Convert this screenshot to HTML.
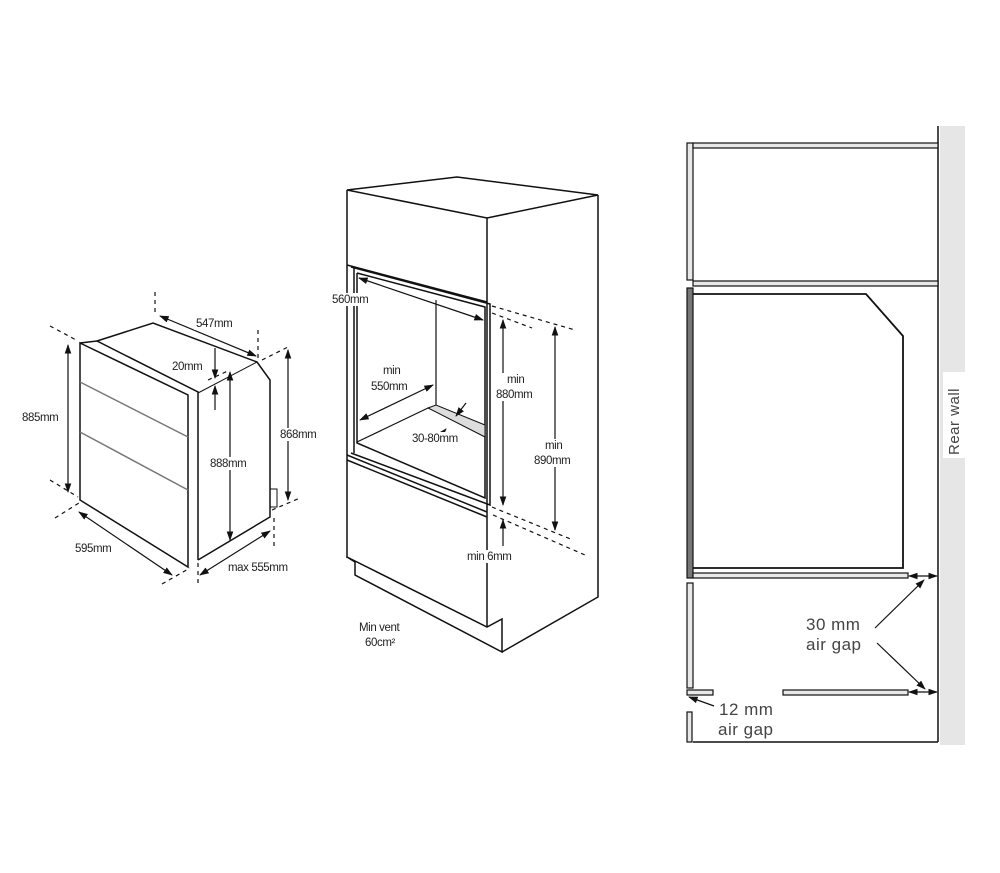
<!DOCTYPE html>
<html><head><meta charset="utf-8"><style>
html,body{margin:0;padding:0;background:#fff;}
svg{display:block}
text{font-family:"Liberation Sans",Arial,sans-serif;fill:#222}
.t{font-size:11.5px;letter-spacing:-0.4px}
.r{font-size:17px;fill:#444;letter-spacing:0.5px}
</style></head><body>
<svg width="1000" height="873" viewBox="0 0 1000 873" xmlns="http://www.w3.org/2000/svg">
<defs>
<marker id="a" viewBox="0 0 10 10" refX="9" refY="5" markerWidth="8" markerHeight="8" orient="auto-start-reverse"><path d="M0,1.5 L10,5 L0,8.5 z" fill="#111"/></marker>
</defs>
<g fill="none" stroke="#111" stroke-width="1.5">
<!-- LEFT OVEN -->
<polygon points="80,343 188,395 188,567 80,500" fill="#fff"/>
<line x1="80" y1="382" x2="188" y2="437" stroke="#777"/>
<line x1="80" y1="432" x2="188" y2="490" stroke="#777"/>
<polyline points="80,343 97,341 198,392 198,560"/>
<polyline points="97,341 153,323 257,362 270,380 270,517 198,560"/>
<line x1="198" y1="393" x2="257" y2="362" stroke-width="1"/>
<rect x="270" y="489" width="7" height="18" stroke-width="1"/>
<g stroke-width="1.2">
<line x1="68" y1="345" x2="68" y2="492" marker-start="url(#a)" marker-end="url(#a)"/>
<line x1="79" y1="512" x2="172" y2="575" marker-start="url(#a)" marker-end="url(#a)"/>
<line x1="160" y1="316" x2="256" y2="356" marker-start="url(#a)" marker-end="url(#a)"/>
<line x1="215" y1="348" x2="215" y2="378" marker-end="url(#a)"/>
<line x1="215" y1="410" x2="215" y2="386" marker-end="url(#a)"/>
<line x1="230" y1="372" x2="230" y2="540" marker-start="url(#a)" marker-end="url(#a)"/>
<line x1="288" y1="350" x2="288" y2="500" marker-start="url(#a)" marker-end="url(#a)"/>
<line x1="200" y1="575" x2="270" y2="531" marker-start="url(#a)" marker-end="url(#a)"/>
</g>
<g stroke-width="1.2" stroke-dasharray="4,4">
<line x1="50" y1="326" x2="78" y2="341"/><line x1="50" y1="480" x2="78" y2="497"/>
<line x1="55" y1="518" x2="79" y2="503"/><line x1="162" y1="584" x2="190" y2="568"/>
<line x1="155" y1="292" x2="155" y2="316"/><line x1="258" y1="330" x2="258" y2="360"/>
<line x1="262" y1="360" x2="290" y2="346"/><line x1="272" y1="510" x2="300" y2="498"/>
<line x1="198" y1="563" x2="198" y2="584"/><line x1="274" y1="518" x2="274" y2="550"/>
<line x1="208" y1="380" x2="230" y2="370"/>
</g>
<!-- MIDDLE CABINET -->
<polygon points="347,190 457,177 598,195 487,218" fill="#fff"/>
<polyline points="347,190 347,558"/>
<polyline points="487,218 487,627"/>
<polyline points="598,195 598,597 502,652"/>
<line x1="347" y1="265" x2="487" y2="302"/>
<polyline points="354,267 354,453"/>
<polyline points="357,273 485,307 485,498 357,443 357,273"/>
<polyline points="351,267 490,304 490,505 351,453"/>
<line x1="347" y1="455" x2="487" y2="512"/>
<line x1="347" y1="460" x2="487" y2="517"/>
<line x1="436" y1="300" x2="436" y2="407" stroke-width="1.2"/>
<polyline points="357,442 428,408 485,432" stroke-width="1.2"/>
<polygon points="428,408 436,405 485,425 485,437" fill="#ddd" stroke-width="1"/>
<polyline points="347,557 355,562 355,575 502,652 502,619 487,627 347,557"/>
<g stroke-width="1.2">
<line x1="359" y1="278" x2="483" y2="320" marker-start="url(#a)" marker-end="url(#a)"/>
<line x1="360" y1="420" x2="433" y2="385" marker-start="url(#a)" marker-end="url(#a)"/>
<line x1="466" y1="403" x2="456" y2="416" marker-end="url(#a)"/>
<line x1="438" y1="438" x2="446" y2="429" marker-end="url(#a)"/>
<line x1="503" y1="320" x2="503" y2="505" marker-start="url(#a)" marker-end="url(#a)"/>
<line x1="555" y1="327" x2="555" y2="530" marker-start="url(#a)" marker-end="url(#a)"/>
<line x1="503" y1="546" x2="503" y2="520" marker-end="url(#a)"/>
</g>
<g stroke-width="1.2" stroke-dasharray="4,4">
<line x1="492" y1="306" x2="575" y2="330"/><line x1="492" y1="313" x2="532" y2="328"/>
<line x1="492" y1="507" x2="573" y2="540"/><line x1="493" y1="515" x2="585" y2="555"/>
</g>
<!-- RIGHT SECTION -->
<rect x="940" y="126" width="25" height="619" fill="#e6e6e6" stroke="none"/>
<rect x="943" y="372" width="22" height="86" fill="#fff" stroke="none"/>
<line x1="938" y1="126" x2="938" y2="742"/>
<rect x="687" y="143" width="6" height="137" fill="#e8e8e8" stroke-width="1.2"/>
<rect x="693" y="143" width="245" height="5" fill="#e8e8e8" stroke-width="1.2"/>
<rect x="693" y="281" width="245" height="5" fill="#e8e8e8" stroke-width="1.2"/>
<rect x="687" y="288" width="6" height="290" fill="#777" stroke-width="1.2"/>
<polyline points="693,294 866,294 903,336 903,568 693,568" stroke-width="1.8"/>
<rect x="693" y="573" width="215" height="5" fill="#e8e8e8" stroke-width="1.2"/>
<rect x="687" y="583" width="6" height="105" fill="#e8e8e8" stroke-width="1.2"/>
<rect x="687" y="690" width="26" height="5" fill="#e8e8e8" stroke-width="1.2"/>
<rect x="783" y="690" width="125" height="5" fill="#e8e8e8" stroke-width="1.2"/>
<rect x="687" y="712" width="5" height="30" fill="#e8e8e8" stroke-width="1.2"/>
<line x1="693" y1="742" x2="938" y2="742"/>
<g stroke-width="1.2">
<line x1="909" y1="576" x2="937" y2="576" marker-start="url(#a)" marker-end="url(#a)"/>
<line x1="909" y1="692" x2="937" y2="692" marker-start="url(#a)" marker-end="url(#a)"/>
<line x1="875" y1="628" x2="924" y2="580" marker-end="url(#a)"/>
<line x1="877" y1="643" x2="925" y2="689" marker-end="url(#a)"/>
<line x1="714" y1="706" x2="689" y2="697" marker-end="url(#a)"/>
</g>
</g>
<!-- label backgrounds -->
<g fill="#fff">
<rect x="194" y="317" width="40" height="13"/>
<rect x="170" y="360" width="34" height="13"/>
<rect x="208" y="457" width="40" height="13"/>
<rect x="278" y="428" width="40" height="13"/>
<rect x="20" y="411" width="40" height="13"/>
<rect x="226" y="561" width="62" height="13"/>
<rect x="330" y="293" width="40" height="13"/>
<rect x="381" y="364" width="22" height="13"/>
<rect x="369" y="380" width="40" height="13"/>
<rect x="410" y="432" width="50" height="13"/>
<rect x="494" y="373" width="42" height="28"/>
<rect x="532" y="439" width="42" height="28"/>
<rect x="465" y="550" width="48" height="13"/>
</g>
<!-- LEFT LABELS -->
<text class="t" x="196" y="327">547mm</text>
<text class="t" x="172" y="370">20mm</text>
<text class="t" x="22" y="421">885mm</text>
<text class="t" x="280" y="438">868mm</text>
<text class="t" x="210" y="467">888mm</text>
<text class="t" x="75" y="552">595mm</text>
<text class="t" x="228" y="571">max 555mm</text>
<!-- MIDDLE LABELS -->
<text class="t" x="332" y="303">560mm</text>
<text class="t" x="383" y="374">min</text>
<text class="t" x="371" y="390">550mm</text>
<text class="t" x="412" y="442">30-80mm</text>
<text class="t" x="507" y="383">min</text>
<text class="t" x="496" y="398">880mm</text>
<text class="t" x="545" y="449">min</text>
<text class="t" x="534" y="464">890mm</text>
<text class="t" x="467" y="560">min 6mm</text>
<text class="t" x="359" y="631">Min vent</text>
<text class="t" x="365" y="646">60cm²</text>
<!-- RIGHT LABELS -->
<text class="r" x="806" y="630">30 mm</text>
<text class="r" x="806" y="650">air gap</text>
<text class="r" x="719" y="715">12 mm</text>
<text class="r" x="718" y="735">air gap</text>
<text class="r" transform="translate(959,455) rotate(-90)" x="0" y="0" style="font-size:15px">Rear wall</text>
</svg>
</body></html>
